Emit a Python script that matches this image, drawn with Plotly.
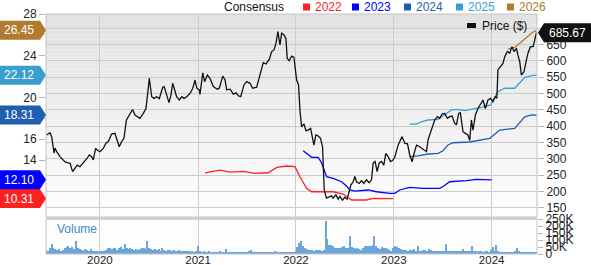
import numpy as np
import pandas as pd
import plotly.graph_objects as go

# ---------------- data ----------------
price_t = [2019.456, 2019.490, 2019.507, 2019.531, 2019.541, 2019.558, 2019.592, 2019.643, 2019.677, 2019.694,
           2019.721, 2019.745, 2019.768, 2019.796, 2019.830, 2019.870, 2019.891, 2019.915, 2019.932, 2019.956,
           2019.972, 2020.000, 2020.034, 2020.061, 2020.085, 2020.119, 2020.153, 2020.177, 2020.197, 2020.221,
           2020.245, 2020.270, 2020.279, 2020.313, 2020.333, 2020.357, 2020.381, 2020.408, 2020.442, 2020.469,
           2020.487, 2020.503, 2020.528, 2020.551, 2020.579, 2020.605, 2020.640, 2020.655, 2020.681, 2020.704,
           2020.724, 2020.741, 2020.757, 2020.781, 2020.809, 2020.834, 2020.857, 2020.885, 2020.918, 2020.946,
           2020.969, 2020.987, 2021.013, 2021.020, 2021.048, 2021.067, 2021.095, 2021.122, 2021.156, 2021.196,
           2021.217, 2021.252, 2021.276, 2021.292, 2021.327, 2021.360, 2021.388, 2021.411, 2021.436, 2021.469,
           2021.497, 2021.531, 2021.558, 2021.599, 2021.626, 2021.666, 2021.694, 2021.728, 2021.752, 2021.776,
           2021.796, 2021.816, 2021.837, 2021.854, 2021.878, 2021.898, 2021.911, 2021.932, 2021.956, 2021.980,
           2022.007, 2022.027, 2022.041, 2022.058, 2022.082, 2022.102, 2022.126, 2022.150, 2022.184, 2022.204,
           2022.228, 2022.251, 2022.272, 2022.289, 2022.312, 2022.339, 2022.363, 2022.379, 2022.408, 2022.432,
           2022.449, 2022.476, 2022.500, 2022.523, 2022.544, 2022.561, 2022.585, 2022.602, 2022.619, 2022.646,
           2022.670, 2022.694, 2022.721, 2022.748, 2022.772, 2022.789, 2022.809, 2022.830, 2022.850, 2022.874,
           2022.898, 2022.918, 2022.942, 2022.966, 2022.987, 2023.010, 2023.044, 2023.085, 2023.112, 2023.140,
           2023.163, 2023.187, 2023.207, 2023.232, 2023.265, 2023.299, 2023.334, 2023.350, 2023.385, 2023.418,
           2023.446, 2023.469, 2023.493, 2023.520, 2023.548, 2023.571, 2023.595, 2023.622, 2023.640, 2023.663,
           2023.680, 2023.707, 2023.731, 2023.758, 2023.776, 2023.793, 2023.809, 2023.834, 2023.860, 2023.888,
           2023.911, 2023.936, 2023.962, 2023.990, 2024.013, 2024.037, 2024.053, 2024.064, 2024.092, 2024.115,
           2024.133, 2024.160, 2024.184, 2024.207, 2024.228, 2024.252, 2024.268, 2024.286, 2024.303, 2024.330,
           2024.354, 2024.370, 2024.395, 2024.422, 2024.439, 2024.456]
price_v = [373, 380, 368, 318, 333, 322, 307, 291, 288, 287,
           261, 272, 281, 276, 287, 302, 312, 307, 297, 332,
           327, 322, 332, 348, 353, 376, 378, 358, 337, 353,
           363, 419, 424, 444, 451, 434, 429, 424, 439, 454,
           500, 546, 490, 485, 490, 484, 519, 521, 495, 472,
           495, 531, 516, 490, 480, 490, 485, 490, 500, 516,
           541, 516, 511, 497, 563, 536, 556, 546, 521, 513,
           516, 553, 541, 511, 513, 498, 502, 493, 490, 526,
           536, 531, 516, 519, 549, 594, 590, 604, 628, 633,
           653, 689, 648, 684, 679, 668, 607, 600, 614, 610,
           541, 526, 449, 398, 407, 386, 388, 393, 342, 373,
           370, 363, 337, 205, 180, 183, 187, 180, 190, 177,
           185, 174, 183, 177, 200, 220, 230, 246, 230, 225,
           233, 225, 236, 227, 236, 287, 292, 261, 287, 292,
           281, 317, 307, 292, 295, 305, 342, 368, 348, 346,
           312, 291, 317, 342, 337, 329, 322, 358, 388, 419,
           429, 424, 437, 439, 424, 429, 431, 409, 404, 439,
           441, 383, 378, 373, 356, 419, 388, 434, 454, 470,
           480, 454, 480, 485, 475, 490, 485, 572, 582, 592,
           612, 628, 623, 643, 628, 638, 617, 597, 556, 567,
           602, 623, 643, 643, 663, 685.67]

c2022_t = [2021.071, 2021.224, 2021.327, 2021.459, 2021.582, 2021.714, 2021.806, 2021.908, 2021.990,
           2022.041, 2022.109, 2022.160, 2022.381, 2022.483, 2022.568, 2022.721, 2022.786, 2022.993]
c2022_v = [12.78, 13.04, 12.85, 12.92, 12.73, 12.78, 13.30, 13.43, 13.36,
           12.40, 11.29, 10.96, 10.96, 10.74, 10.17, 10.17, 10.33, 10.31]

c2023_t = [2022.074, 2022.160, 2022.228, 2022.262, 2022.313, 2022.381, 2022.466, 2022.517, 2022.551,
           2022.602, 2022.738, 2022.823, 2022.959, 2023.010, 2023.061, 2023.163, 2023.296, 2023.469,
           2023.500, 2023.571, 2023.745, 2023.847, 2024.000]
c2023_v = [14.89, 14.26, 14.26, 13.74, 12.40, 12.25, 11.92, 11.51, 11.13,
           11.03, 11.13, 10.96, 10.81, 10.81, 11.13, 11.38, 11.29, 11.29,
           11.44, 11.92, 12.02, 12.15, 12.10]

c2024_t = [2023.163, 2023.248, 2023.350, 2023.452, 2023.503, 2023.554, 2023.605, 2023.691, 2023.776,
           2023.980, 2024.082, 2024.235, 2024.337, 2024.405, 2024.459]
c2024_v = [14.32, 14.39, 14.58, 14.64, 14.89, 15.44, 15.66, 15.73, 15.73,
           16.08, 16.88, 17.04, 18.15, 18.32, 18.31]

c2025_t = [2023.163, 2023.232, 2023.283, 2023.350, 2023.452, 2023.520, 2023.589, 2023.640, 2023.724,
           2023.895, 2023.990, 2024.064, 2024.133, 2024.235, 2024.337, 2024.422, 2024.459]
c2025_v = [17.45, 17.45, 17.67, 17.84, 17.90, 18.32, 18.80, 18.86, 18.73,
           19.05, 19.28, 20.55, 20.88, 20.88, 21.93, 22.12, 22.12]

c2026_t = [2024.166, 2024.235, 2024.286, 2024.337, 2024.405, 2024.459]
c2026_v = [24.64, 24.80, 25.19, 25.57, 26.15, 26.45]

# weekly volume (thousands), first week 2019-06-14
volume_k = [30, 25, 45, 70, 40, 35, 30, 35, 25, 30, 40, 50, 55,
            45, 50, 35, 90, 40, 35, 30, 25, 35, 30, 25, 35, 20,
            20, 25, 15, 20, 25, 20, 30, 40, 45, 35, 40, 45, 30,
            45, 50, 35, 70, 40, 35, 40, 35, 30, 35, 30, 35, 40,
            45, 35, 90, 40, 35, 30, 35, 30, 35, 25, 40, 30, 25,
            28, 30, 25, 30, 25, 20, 28, 22, 18, 20, 22, 18, 15,
            18, 15, 20, 55, 25, 15, 18, 12, 15, 20, 15, 12, 14,
            12, 15, 18, 14, 12, 35, 15, 12, 14, 16, 12, 10, 14,
            12, 14, 10, 12, 18, 28, 12, 10, 14, 12, 10, 12, 15,
            12, 14, 16, 12, 10, 22, 12, 14, 12, 10, 14, 16, 14,
            12, 14, 10, 18, 50, 80, 92, 60, 45, 35, 30, 28, 30,
            25, 30, 28, 30, 25, 30, 234, 107, 64, 64, 55, 45, 40,
            42, 40, 48, 55, 45, 42, 130, 50, 40, 35, 42, 38, 30,
            45, 57, 55, 60, 55, 65, 130, 55, 40, 35, 50, 45, 40,
            35, 30, 25, 45, 55, 50, 45, 35, 30, 28, 30, 25, 28,
            30, 35, 25, 57, 20, 25, 30, 28, 25, 35, 30, 25, 22,
            25, 20, 22, 18, 20, 75, 25, 20, 18, 22, 20, 18, 20,
            25, 35, 22, 20, 18, 20, 57, 20, 18, 15, 20, 18, 15,
            18, 20, 15, 30, 52, 20, 64, 25, 15, 14, 16, 14, 15,
            12, 14, 12, 18, 40, 25, 15, 14, 12, 14, 12, 15, 12,
            14, 12]

series_names = ["2022", "2023", "2024", "2025", "2026"]
series_colors = ["#ff2020", "#0000ff", "#1e5fb0", "#3a9fcf", "#b07a30"]
# tick labels hidden under the value tags are left blank, as in the reference
cons_ticks = [10, 12, 14, 16, 18, 20, 22, 24, 26, 28]
cons_ticktext = ["", "", "14", "16", "", "20", "", "24", "", "28"]
price_ticks = [150, 200, 250, 300, 350, 400, 450, 500, 550, 600, 650, 700]
price_ticktext = ["150", "200", "250", "300", "350", "400", "450", "500", "550", "600", "650", ""]
vol_ticks = [0, 50000, 100000, 150000, 200000, 250000]
vol_ticktext = ["0", "50K", "100K", "150K", "200K", "250K"]
year_ticks = ["2020-01-01", "2021-01-01", "2022-01-01", "2023-01-01", "2024-01-01"]
year_text = ["2020", "2021", "2022", "2023", "2024"]

# ---------------- helpers ----------------
def to_date(t):
    y = int(np.floor(t))
    s = pd.Timestamp(year=y, month=1, day=1)
    e = pd.Timestamp(year=y + 1, month=1, day=1)
    return s + (e - s) * (t - y)

W, H = 591, 265
ML, MR, MT, MB = 46, 54, 14, 11
PW = W - ML - MR
PH = H - MT - MB
MAIN_BOTTOM_PX = 217
VOL_TOP_PX = 219

def fx(px):
    return (px - ML) / PW

def fy(py):
    return (H - MB - py) / PH

cons_range = [8.54, 28]
price_range = [122.4, 742.8]
x_range = [to_date(2019.449), to_date(2024.462)]
FONT = "Liberation Sans, Arial, sans-serif"

def cons_px(v):
    return MT + (cons_range[1] - v) / (cons_range[1] - cons_range[0]) * (MAIN_BOTTOM_PX - MT)

def price_px(v):
    return MT + (price_range[1] - v) / (price_range[1] - price_range[0]) * (MAIN_BOTTOM_PX - MT)

fig = go.Figure()

# ---------------- traces ----------------
vol_dates = pd.date_range("2019-06-14", periods=len(volume_k), freq="7D")
fig.add_trace(go.Bar(x=vol_dates, y=[v * 1000 for v in volume_k], xaxis="x", yaxis="y3",
                     marker=dict(color="#6aa6dc", line=dict(width=0)),
                     width=4.5 * 86400000))

cons_t = [c2022_t, c2023_t, c2024_t, c2025_t, c2026_t]
cons_v = [c2022_v, c2023_v, c2024_v, c2025_v, c2026_v]
for t, v, col in zip(cons_t, cons_v, series_colors):
    fig.add_trace(go.Scatter(x=[to_date(a) for a in t], y=v, mode="lines", xaxis="x2", yaxis="y",
                             line=dict(color=col, width=1.3)))

fig.add_trace(go.Scatter(x=[to_date(a) for a in price_t], y=price_v, mode="lines",
                         xaxis="x2", yaxis="y2", line=dict(color="#111111", width=1.3)))

# ---------------- shapes ----------------
shapes = []
N = 40
top, bot = MT, MAIN_BOTTOM_PX
for i in range(N):
    y0 = top + (bot - top) * i / N
    y1 = top + (bot - top) * (i + 1) / N
    f = i / (N - 1)
    g = int(round(226 + (253 - 226) * f))
    shapes.append(dict(type="rect", xref="paper", yref="paper", x0=0, x1=1, y0=fy(y1), y1=fy(y0),
                       fillcolor=f"rgb({g},{g},{g})", line=dict(width=0), layer="below"))
shapes.append(dict(type="rect", xref="paper", yref="paper", x0=0, x1=1, y0=0, y1=fy(VOL_TOP_PX),
                   fillcolor="#fdfdfd", line=dict(width=0), layer="below"))
shapes.append(dict(type="rect", xref="paper", yref="paper", x0=0, x1=1, y0=fy(VOL_TOP_PX + 0.5), y1=fy(MAIN_BOTTOM_PX),
                   fillcolor="#d6d6d6", line=dict(width=0), layer="above"))
shapes.append(dict(type="rect", xref="paper", yref="paper", x0=0, x1=1, y0=fy(MAIN_BOTTOM_PX), y1=1,
                   line=dict(color="#c4c4c4", width=1), layer="above"))
shapes.append(dict(type="rect", xref="paper", yref="paper", x0=0, x1=1, y0=0, y1=fy(VOL_TOP_PX),
                   line=dict(color="#c4c4c4", width=1), layer="above"))

annotations = []

def tag_left(py, color, text):
    hh = 9.5
    pts = [(0, py - hh), (40, py - hh), (46, py), (40, py + hh), (0, py + hh)]
    path = "M " + " L ".join(f"{fx(a):.5f},{fy(b):.5f}" for a, b in pts) + " Z"
    shapes.append(dict(type="path", xref="paper", yref="paper", path=path, fillcolor=color,
                       line=dict(width=0), layer="above"))
    annotations.append(dict(xref="paper", yref="paper", x=fx(19), y=fy(py), text=text, showarrow=False,
                            xanchor="center", yanchor="middle", font=dict(family=FONT, size=12, color="white")))

for v, col in zip(cons_v, series_colors):
    tag_left(cons_px(v[-1]), col, f"{v[-1]:.2f}")

py = price_px(price_v[-1])
hh = 9.5
pts = [(538, py), (544, py - hh), (591, py - hh), (591, py + hh), (544, py + hh)]
path = "M " + " L ".join(f"{fx(a):.5f},{fy(b):.5f}" for a, b in pts) + " Z"
shapes.append(dict(type="path", xref="paper", yref="paper", path=path, fillcolor="#111111",
                   line=dict(width=0), layer="above"))
annotations.append(dict(xref="paper", yref="paper", x=fx(567.5), y=fy(py), text=f"{price_v[-1]:.2f}",
                        showarrow=False, xanchor="center", yanchor="middle",
                        font=dict(family=FONT, size=12, color="white")))

annotations.append(dict(xref="paper", yref="paper", x=fx(222), y=fy(7), text="Consensus", showarrow=False,
                        xanchor="left", yanchor="middle", font=dict(family=FONT, size=12, color="#111111")))
leg_x = [303, 352, 404, 456, 507]
for lx, name, col in zip(leg_x, series_names, series_colors):
    shapes.append(dict(type="rect", xref="paper", yref="paper", x0=fx(lx), x1=fx(lx + 7),
                       y0=fy(10.5), y1=fy(3.5), fillcolor=col, line=dict(width=0)))
    annotations.append(dict(xref="paper", yref="paper", x=fx(lx + 10), y=fy(7), text=name, showarrow=False,
                            xanchor="left", yanchor="middle", font=dict(family=FONT, size=12, color=col)))

shapes.append(dict(type="rect", xref="paper", yref="paper", x0=fx(467), x1=fx(476), y0=fy(28), y1=fy(23),
                   fillcolor="#111111", line=dict(width=0)))
annotations.append(dict(xref="paper", yref="paper", x=fx(480), y=fy(25.5), text="Price ($)", showarrow=False,
                        xanchor="left", yanchor="middle", font=dict(family=FONT, size=12, color="#111111")))

annotations.append(dict(xref="paper", yref="paper", x=fx(55), y=fy(229), text="Volume", showarrow=False,
                        xanchor="left", yanchor="middle", font=dict(family=FONT, size=12, color="#3d8ac9")))

tickfont = dict(family=FONT, size=12, color="#222222")
fig.update_layout(
    width=W, height=H,
    margin=dict(l=ML, r=MR, t=MT, b=MB, autoexpand=False),
    paper_bgcolor="white", plot_bgcolor="rgba(0,0,0,0)",
    showlegend=False, bargap=0,
    shapes=shapes, annotations=annotations,
    xaxis=dict(domain=[0, 1], anchor="y3", type="date", range=x_range,
               tickvals=year_ticks, ticktext=year_text, tickfont=dict(family=FONT, size=11.5, color="#222222"),
               ticklabelstandoff=-3,
               showgrid=True, gridcolor="#cccccc", gridwidth=1, ticks="", showline=False,
               zeroline=False, automargin=False),
    xaxis2=dict(domain=[0, 1], anchor="y", type="date", range=x_range, matches="x",
                tickvals=year_ticks, showticklabels=False, showgrid=True, gridcolor="#cccccc",
                ticks="", showline=False, zeroline=False, automargin=False),
    yaxis=dict(domain=[fy(MAIN_BOTTOM_PX), 1], anchor="x2", side="left", range=cons_range,
               tickvals=cons_ticks, ticktext=cons_ticktext, tickfont=tickfont, showgrid=False, zeroline=False,
               ticks="outside", ticklen=6, tickcolor="#b5b5b5", showline=False, automargin=False),
    yaxis2=dict(overlaying="y", anchor="x2", side="right", range=price_range,
                tickvals=price_ticks, ticktext=price_ticktext, tickfont=tickfont, showgrid=True,
                gridcolor="#cccccc", zeroline=False, ticks="outside", ticklen=6, tickcolor="#b5b5b5",
                showline=False, automargin=False),
    yaxis3=dict(domain=[0, fy(VOL_TOP_PX)], anchor="x", side="right", range=[0, 250000],
                tickvals=vol_ticks, ticktext=vol_ticktext, tickfont=tickfont, showgrid=False,
                zeroline=False, ticks="outside", ticklen=5, tickcolor="#b5b5b5", showline=False,
                automargin=False),
)

fig.write_html("out.html")
